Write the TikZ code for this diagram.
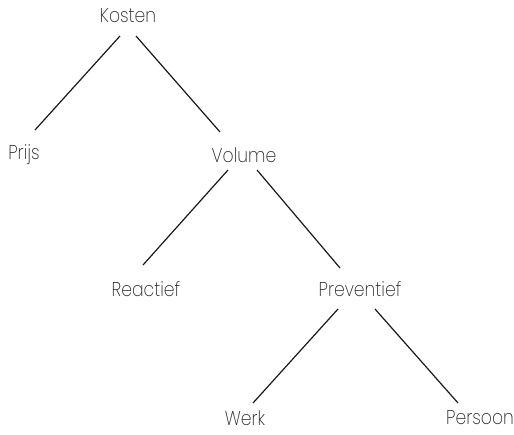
\documentclass[tikz,border=0pt]{standalone}
\usepackage{fontspec}
\setmainfont{Poppins}[UprightFont=* ExtraLight, FakeStretch=0.86]
\begin{document}
\begin{tikzpicture}[x=1pt,y=-1pt,
  lbl/.style={inner sep=0pt,font=\fontsize{20}{20}\selectfont,text=black!85},
  edge/.style={line width=1.2pt,black!90}]
\useasboundingbox (0,0) rectangle (514,434);
\node[lbl] (kosten) at (128,16) {Kosten};
\node[lbl] (prijs) at (24,155) {Prijs};
\node[lbl] (volume) at (244,155) {Volume};
\node[lbl] (reactief) at (146,289) {Reactief};
\node[lbl] (preventief) at (360,289) {Preventief};
\node[lbl] (werk) at (245,418) {Werk};
\node[lbl] (persoon) at (480,418) {Persoon};
% branch lines, trimmed short of the labels
\draw[edge] ([shift={(-8,20)}]kosten.center) -- ([shift={(11,-25)}]prijs.center);
\draw[edge] ([shift={(8,20)}]kosten.center) -- ([shift={(-24,-23)}]volume.center);
\draw[edge] ([shift={(-16,15)}]volume.center) -- ([shift={(-3,-24)}]reactief.center);
\draw[edge] ([shift={(13,15)}]volume.center) -- ([shift={(-20,-21)}]preventief.center);
\draw[edge] ([shift={(-22,20)}]preventief.center) -- ([shift={(8,-15)}]werk.center);
\draw[edge] ([shift={(15,20)}]preventief.center) -- ([shift={(-22,-15)}]persoon.center);
\end{tikzpicture}
\end{document}
